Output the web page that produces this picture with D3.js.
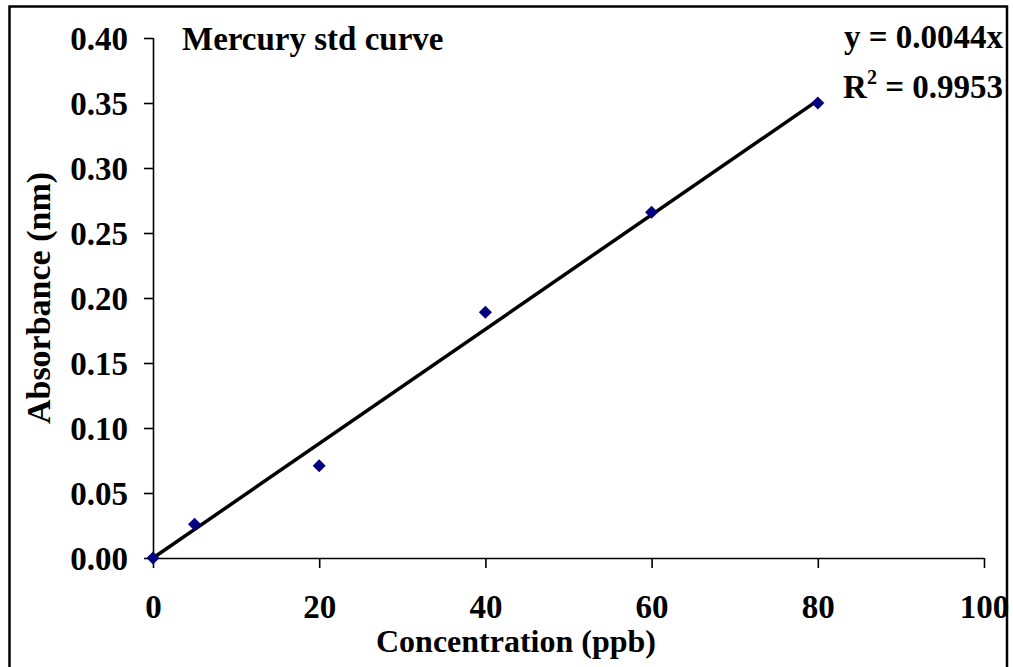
<!DOCTYPE html>
<html>
<head>
<meta charset="utf-8">
<script src="https://cdn.jsdelivr.net/npm/d3@7"></script>
<style>
  html, body { margin: 0; padding: 0; background: #fff; }
  svg { display: block; }
  text { font-family: "Liberation Serif", "Times New Roman", serif; font-weight: bold; fill: #000; }
</style>
</head>
<body>
<svg id="chart" width="1013" height="667"></svg>
<script>
// Courbe d'étalonnage du mercure — absorbance vs concentration
const concentrations = [0, 5, 20, 40, 60, 80];
const absorbances = [0.000, 0.026, 0.071, 0.189, 0.266, 0.350];
const xTicks = [0, 20, 40, 60, 80, 100];
const yTicks = [0, 0.05, 0.10, 0.15, 0.20, 0.25, 0.30, 0.35, 0.40];
const slope = 0.0044;
const fitRange = [0, 80];
const titleText = 'Mercury std curve';
const eqText = 'y = 0.0044x';
const r2Value = '0.9953';

const svg = d3.select('#chart');
const W = 1013, H = 667;
const PAD = { left: 153, right: 29, top: 38, bottom: 109 };
const FONT = '33px';

// cadre extérieur (coupé en bas comme sur l'original)
svg.append('rect')
  .attr('x', 9.5).attr('y', 6.5).attr('width', 997.5).attr('height', 700)
  .attr('fill', 'none').attr('stroke', '#000').attr('stroke-width', 2.5);

const x = d3.scaleLinear().domain([0, 100]).range([PAD.left, W - PAD.right]);
const y = d3.scaleLinear().domain([0, 0.40]).range([H - PAD.bottom, PAD.top]);

const xAxis = svg.append('g')
  .attr('transform', `translate(0,${y(0)})`)
  .call(d3.axisBottom(x).tickValues(xTicks).tickSize(10).tickPadding(27).tickFormat(d3.format('d')));
const yAxis = svg.append('g')
  .attr('transform', `translate(${x(0)},0)`)
  .call(d3.axisLeft(y).tickValues(yTicks).tickSize(9).tickPadding(16).tickFormat(d3.format('.2f')));

[xAxis, yAxis].forEach(g => {
  g.select('.domain').attr('stroke', '#000').attr('stroke-width', 1.6);
  g.selectAll('.tick line').attr('stroke', '#000').attr('stroke-width', 1.6);
  g.selectAll('.tick text')
    .style('font-family', '"Liberation Serif", serif')
    .style('font-weight', 'bold')
    .style('font-size', FONT)
    .attr('fill', '#000');
});
// la ligne d'axe de d3 a des bouts de graduation aux extrémités ; on garde juste le trait
xAxis.select('.domain').attr('d', `M${x(0)},0.5H${x(100)}`);
yAxis.select('.domain').attr('d', `M0.5,${y(0.40)}V${y(0)}`);
xAxis.selectAll('.tick text').attr('dy', '0.71em');
yAxis.selectAll('.tick text').attr('dy', '0.35em');

// droite de régression
svg.append('line')
  .attr('x1', x(fitRange[0])).attr('y1', y(slope * fitRange[0]))
  .attr('x2', x(fitRange[1])).attr('y2', y(slope * fitRange[1]))
  .attr('stroke', '#000').attr('stroke-width', 3.5);

// points de mesure
svg.append('g').selectAll('path')
  .data(concentrations.map((c, i) => [c, absorbances[i]]))
  .join('path')
  .attr('d', d3.symbol(d3.symbolSquare, 85))
  .attr('transform', d => `translate(${x(d[0])},${y(d[1])}) rotate(45)`)
  .attr('fill', '#000080');

// textes
svg.append('text')
  .attr('x', 182).attr('y', 50)
  .style('font-size', FONT)
  .text(titleText);

svg.append('text')
  .attr('x', 1003).attr('y', 48)
  .attr('text-anchor', 'end')
  .style('font-size', FONT)
  .text(eqText);

const r2 = svg.append('text')
  .attr('x', 1003).attr('y', 98)
  .attr('text-anchor', 'end')
  .style('font-size', FONT);
r2.append('tspan').text('R');
r2.append('tspan').attr('dy', -14).style('font-size', '20px').text('2');
r2.append('tspan').attr('dy', 14).text(' = ' + r2Value);

svg.append('text')
  .attr('x', 516).attr('y', 652)
  .attr('text-anchor', 'middle')
  .style('font-size', '32px')
  .text('Concentration (ppb)');

svg.append('text')
  .attr('transform', `translate(50,${(y(0) + y(0.40)) / 2}) rotate(-90)`)
  .attr('text-anchor', 'middle')
  .style('font-size', '34px')
  .text('Absorbance (nm)');
</script>
</body>
</html>
